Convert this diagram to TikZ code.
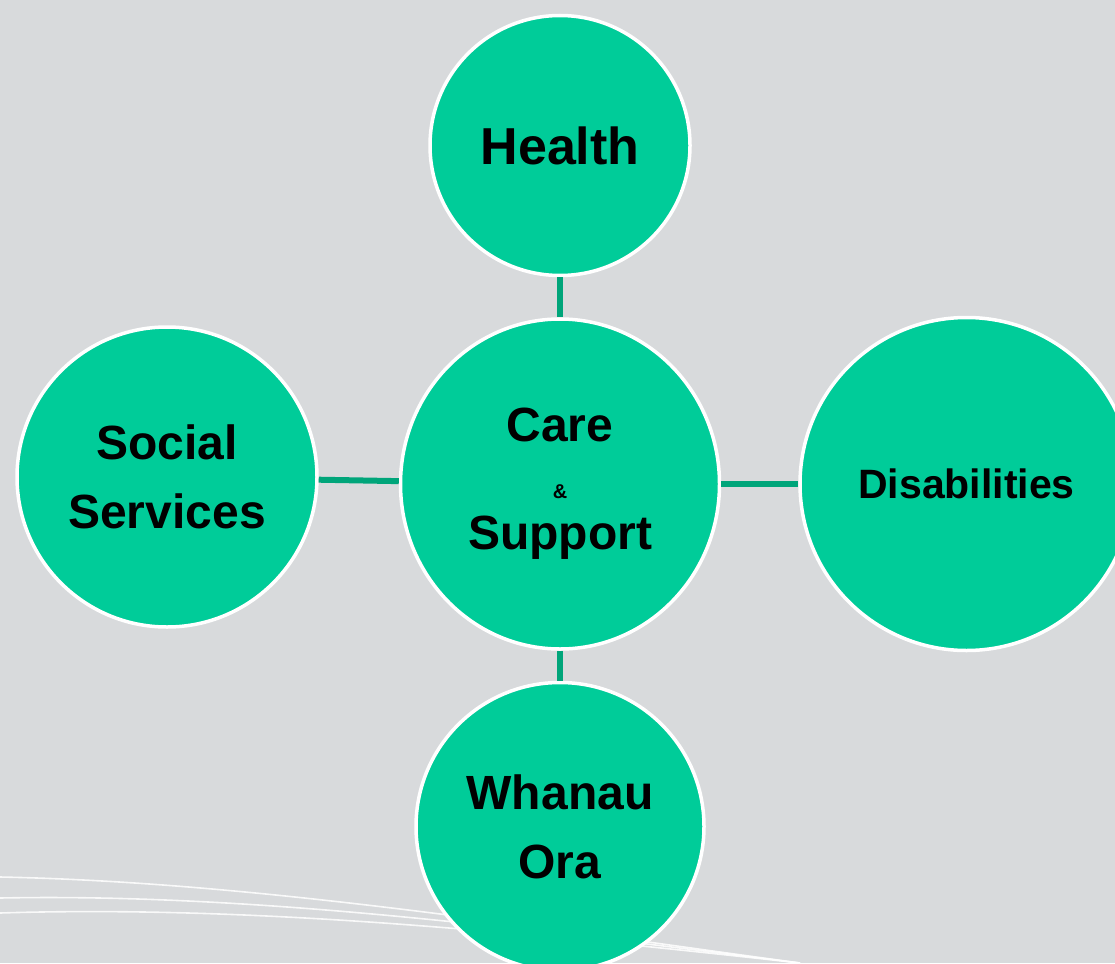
\documentclass[tikz,border=0pt]{standalone}
\usepackage{fontspec}
\setmainfont{Liberation Sans}
\usepackage{tikz}
\usetikzlibrary{positioning,shapes.geometric}
\definecolor{slide}{HTML}{D8DADC}
\definecolor{mint}{HTML}{00CC99}
\definecolor{linkgreen}{HTML}{00A57A}
\tikzstyle{area node}=[circle, draw=white, line width=3.5pt, fill=mint, align=center, inner sep=0pt, font=\bfseries\fontsize{48}{69}\selectfont]
\tikzstyle{link}=[draw=linkgreen, line width=6pt]
\tikzstyle{swoosh}=[draw=white, line width=1.6pt, opacity=0.85]

\begin{document}
\begin{tikzpicture}[x=1pt, y=1pt]
%
  \fill[slide] (0,0) rectangle (1115,-963);
  \useasboundingbox (0,0) rectangle (1115,-963);
% background swooshes
  \path[swoosh] (0,-877) .. controls (250,-882) and (520,-925) .. (800,-963);
  \path[swoosh] (0,-898) .. controls (250,-893) and (520,-928) .. (800,-963);
  \path[swoosh] (0,-913) .. controls (250,-905) and (520,-932) .. (800,-963);
%
  \node[area node, ellipse, minimum width=319pt, minimum height=330pt] (care) at (560,-484)
    {Care\\[-12pt]{\fontsize{20}{24}\selectfont\&}\\[-18pt]Support};
  \node[area node, minimum size=260pt, font=\bfseries\fontsize{52}{60}\selectfont] (health) [above=40pt of care] {Health};
  \node[area node, minimum size=300pt, yshift=7pt] (social) [left=80pt of care] {Social\\Services};
  \node[area node, minimum size=333pt, font=\bfseries\fontsize{41}{47}\selectfont] (disab) [right=77pt of care] {Disabilities};
  \node[area node, minimum size=288pt] (whanau) [below=30pt of care] {Whanau\\Ora};
%
 \path[link]
	(health) edge (care)
	(social) edge (care)
	(care) edge (disab)
	(care) edge (whanau);
%
\end{tikzpicture}
\end{document}
